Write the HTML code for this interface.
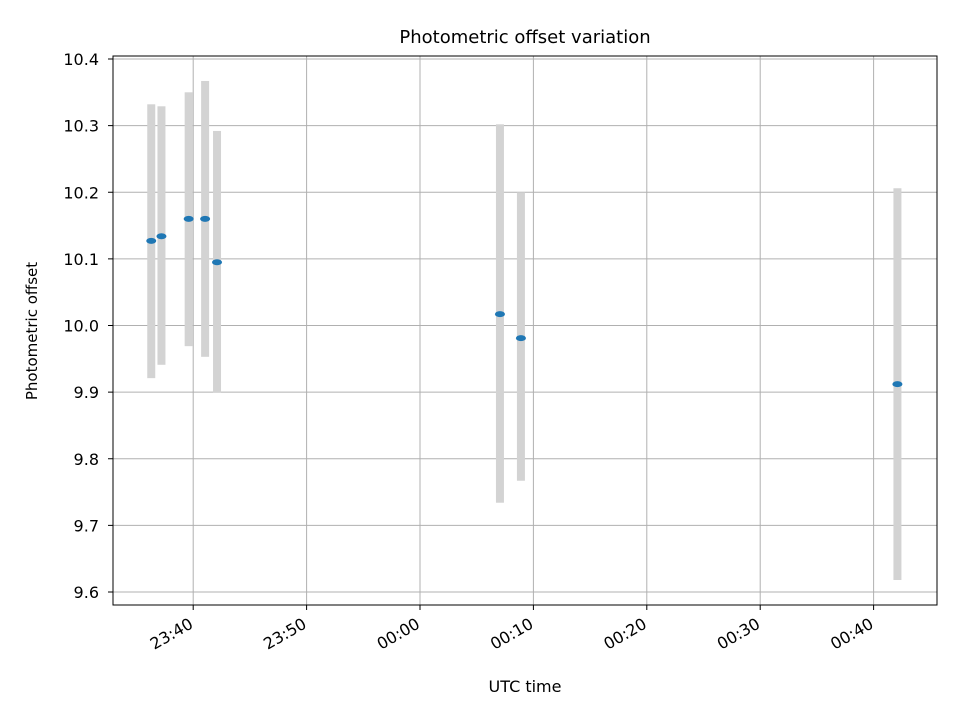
<!DOCTYPE html>
<html><head><meta charset="utf-8"><style>
body{margin:0;background:#fff}
svg text{font-family:"DejaVu Sans","Liberation Sans",sans-serif;fill:#000}
</style></head><body>
<svg id="chart" width="960" height="720" xmlns="http://www.w3.org/2000/svg">
<rect width="960" height="720" fill="#fff"/>
<g id="grid"></g>
<g id="bars"></g>
<g id="pts"></g>
<rect x="113" y="56" width="824" height="549" fill="none" stroke="#000" stroke-width="1"/>
<g id="axes"></g>
<text x="525" y="43" font-size="18" text-anchor="middle">Photometric offset variation</text>
<text x="525" y="692" font-size="16" text-anchor="middle">UTC time</text>
<text x="37" y="331" font-size="15" text-anchor="middle" transform="rotate(-90 37 331)">Photometric offset</text>
</svg>
<script>
// times in minutes relative to 00:00
const times=[-23.7,-22.8,-20.4,-18.95,-17.9,7.05,8.9,42.1];
const values=[10.127,10.134,10.160,10.160,10.095,10.017,9.981,9.912];
const upper=[10.332,10.329,10.350,10.367,10.292,10.302,10.200,10.206];
const lower=[9.921,9.941,9.969,9.953,9.899,9.734,9.767,9.618];
const yTicks=[9.6,9.7,9.8,9.9,10.0,10.1,10.2,10.3,10.4];
const xTicks=[-20,-10,0,10,20,30,40];
const xTickLabels=["23:40","23:50","00:00","00:10","00:20","00:30","00:40"];
const NS="http://www.w3.org/2000/svg";
const X=t=>420+t*11.34;
const Y=v=>592-(v-9.6)*666.25;
function mk(tag,attrs,parent){const e=document.createElementNS(NS,tag);for(const k in attrs)e.setAttribute(k,attrs[k]);document.getElementById(parent).appendChild(e);return e;}
yTicks.forEach(v=>{
  const g=mk('line',{x1:113,x2:937,y1:Y(v),y2:Y(v),stroke:'#b0b0b0','stroke-width':1},'grid');
  
  
  const tk=mk('line',{x1:108,x2:113,y1:Y(v),y2:Y(v),stroke:'#000'},'axes');
  
  
  const t=mk('text',{x:99,y:Y(v)+6,'font-size':16,'text-anchor':'end'},'axes');
  t.textContent=v.toFixed(1);
  
  
});
xTicks.forEach((m,i)=>{
  const g=mk('line',{x1:X(m),x2:X(m),y1:56,y2:605,stroke:'#b0b0b0','stroke-width':1},'grid');
  
  
  const tk=mk('line',{x1:X(m),x2:X(m),y1:605,y2:610,stroke:'#000'},'axes');
  
  
  const x=X(m)+1,y=627;
  const t=mk('text',{x:x,y:y,'font-size':16,'text-anchor':'end',transform:`rotate(-30 ${x} ${y})`},'axes');
  t.textContent=xTickLabels[i];
  
  
});
times.forEach((t,i)=>{
  const b=mk('rect',{x:X(t)-4,y:Y(upper[i]),width:8,height:Y(lower[i])-Y(upper[i]),fill:'#d3d3d3'},'bars');
  
  
  const p=mk('ellipse',{cx:X(t),cy:Y(values[i]),rx:5,ry:3,fill:'#1f77b4'},'pts');
  
  
});
</script>
</body></html>
